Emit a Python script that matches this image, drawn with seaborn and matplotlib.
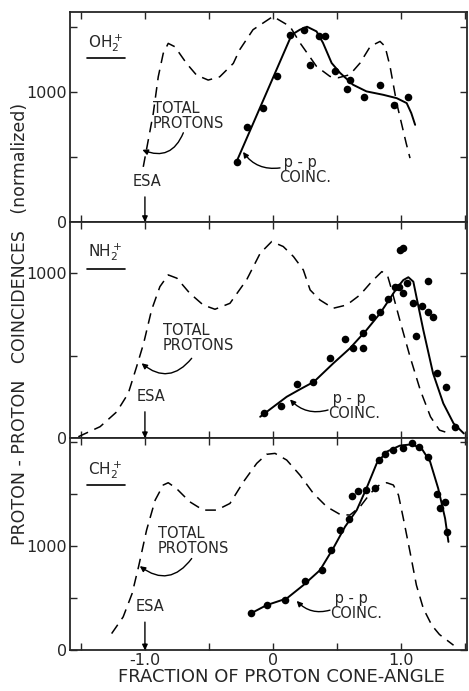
import matplotlib
matplotlib.use("Agg")
import matplotlib.pyplot as plt
import seaborn as sns

sns.set_style("ticks")
plt.rcParams['font.family'] = ['DejaVu Sans']
plt.rcParams['font.size'] = 11

# ---- OH2+ panel ----
oh_total_x = [-1.013, -0.974, -0.935, -0.896, -0.857, -0.818, -0.766, -0.675, -0.597, -0.506,
              -0.416, -0.31, -0.26, -0.156, 0.0, 0.133, 0.21, 0.34, 0.445, 0.51, 0.60, 0.68,
              0.76, 0.836, 0.875, 0.914, 0.966, 1.04, 1.07]
oh_total_y = [423, 628, 833, 1115, 1295, 1372, 1346, 1218, 1128, 1090,
              1115, 1218, 1323, 1477, 1579, 1502, 1377, 1195, 1118, 1108, 1131, 1221,
              1349, 1387, 1349, 1195, 913, 605, 490]
oh_fit_x = [-0.284, 0.146, 0.21, 0.266, 0.34, 0.39, 0.458, 0.523, 0.625, 0.73, 0.86, 0.966,
            1.044, 1.08, 1.11]
oh_fit_y = [464, 1438, 1477, 1500, 1464, 1377, 1221, 1146, 1054, 1003, 977, 951,
            913, 836, 746]
oh_pts_x = [-0.279, -0.20, -0.081, 0.029, 0.133, 0.245, 0.289, 0.362, 0.406, 0.484,
            0.60, 0.575, 0.71, 0.836, 0.945, 1.057]
oh_pts_y = [464, 733, 874, 1123, 1438, 1472, 1203, 1426, 1426, 1156,
            1087, 1021, 959, 1054, 900, 959]

# ---- NH2+ panel ----
nh_total_x = [-1.52, -1.35, -1.22, -1.13, -1.065, -1.01, -0.948, -0.883, -0.818, -0.75,
              -0.65, -0.545, -0.453, -0.336, -0.206, -0.10, -0.01, 0.08, 0.16, 0.237,
              0.29, 0.367, 0.47, 0.576, 0.68, 0.77, 0.85, 0.893, 0.927, 0.99, 1.07,
              1.15, 1.23, 1.30, 1.38]
nh_total_y = [8, 69, 159, 271, 432, 574, 776, 917, 988, 968,
              877, 806, 780, 816, 958, 1119, 1190, 1160, 1099, 1018,
              897, 836, 786, 806, 867, 947, 1008, 988, 897, 715, 493,
              291, 129, 48, 28]
nh_fit_x = [-0.10, 0.107, 0.21, 0.32, 0.47, 0.60, 0.73, 0.836, 0.914, 0.966, 1.018, 1.057,
            1.096, 1.12, 1.174, 1.25, 1.33, 1.41, 1.49]
nh_fit_y = [129, 250, 295, 341, 452, 543, 654, 755, 846, 907, 957, 974,
            947, 856, 654, 392, 210, 89, 28]
nh_pts_x = [-0.07, 0.0625, 0.19, 0.315, 0.445, 0.5625, 0.628, 0.70, 0.705, 0.77, 0.836,
            0.896, 0.953, 0.987, 0.99, 1.013, 1.018, 1.05, 1.096, 1.16, 1.21, 1.21,
            1.25, 1.117, 1.28, 1.35, 1.42]
nh_pts_y = [153, 196, 327, 341, 487, 598, 543, 543, 638, 731, 766,
            840, 917, 913, 1140, 1150, 881, 937, 816, 800, 953, 766,
            731, 618, 396, 311, 65]

# ---- CH2+ panel ----
ch_total_x = [-1.26, -1.17, -1.10, -1.05, -0.987, -0.92, -0.857, -0.818, -0.755, -0.65,
              -0.545, -0.44, -0.336, -0.23, -0.127, -0.05, 0.016, 0.107, 0.21, 0.315,
              0.42, 0.523, 0.60, 0.68, 0.76, 0.836, 0.888, 0.94, 0.98, 1.018, 1.07,
              1.12, 1.174, 1.24, 1.30, 1.41]
ch_total_y = [160, 320, 545, 801, 1154, 1442, 1587, 1609, 1555, 1426,
              1346, 1346, 1410, 1619, 1795, 1882, 1891, 1827, 1683, 1507,
              1378, 1305, 1298, 1378, 1507, 1593, 1609, 1587, 1490, 1266, 945,
              625, 401, 240, 151, 48]
ch_fit_x = [-0.174, -0.05, 0.107, 0.237, 0.367, 0.47, 0.5625, 0.654, 0.73, 0.81, 0.888,
            0.99, 1.083, 1.16, 1.227, 1.29, 1.344, 1.37]
ch_fit_y = [353, 433, 497, 625, 769, 978, 1186, 1346, 1555, 1795, 1907,
            1965, 1978, 1939, 1811, 1555, 1266, 1041]
ch_pts_x = [-0.174, -0.05, 0.094, 0.25, 0.38, 0.45, 0.52, 0.596, 0.62, 0.66, 0.727,
            0.797, 0.83, 0.875, 0.94, 1.013, 1.083, 1.143, 1.213, 1.284, 1.344,
            1.305, 1.362]
ch_pts_y = [353, 439, 487, 663, 769, 962, 1154, 1260, 1481, 1529, 1538,
            1561, 1827, 1882, 1923, 1945, 1987, 1955, 1859, 1497, 1426,
            1368, 1131]

ion_labels = ['OH$_2^+$', 'NH$_2^+$', 'CH$_2^+$']
y_tops = [1615, 1309, 2038]
x_ticks = [-1.5, -1.0, -0.5, 0.0, 0.5, 1.0, 1.5]
x_ticklabels = ['', '-1.0', '', '0', '', '1.0', '']
y_ticks = [0, 500, 1000, 1500, 2000]
y_ticklabels = ['0', '', '1000', '', '']

# annotation anchors (data coords) per panel
total_text = [(-0.94, 815), (-0.86, 606), (-0.90, 1052)]
total_arrow = [((-0.70, 685), (-1.02, 554)), ((-0.635, 483), (-1.026, 453)),
               ((-0.635, 881), (-1.04, 808))]
pp_text = [(0.045, 400), (0.43, 195), (0.445, 425)]
pp_arrow = [((0.055, 415), (-0.234, 538)), ((0.43, 170), (0.133, 234)),
            ((0.445, 385), (0.185, 474))]
esa_text = [(-0.98, 310), (-0.95, 250), (-0.96, 417)]
esa_arrow_top = [192, 159, 270]

panels = [
    (oh_total_x, oh_total_y, oh_fit_x, oh_fit_y, oh_pts_x, oh_pts_y),
    (nh_total_x, nh_total_y, nh_fit_x, nh_fit_y, nh_pts_x, nh_pts_y),
    (ch_total_x, ch_total_y, ch_fit_x, ch_fit_y, ch_pts_x, ch_pts_y),
]

fig, axes = plt.subplots(3, 1, figsize=(4.69, 6.91), dpi=100, sharex=True,
                         gridspec_kw={'height_ratios': [210, 216, 212], 'hspace': 0})
fig.subplots_adjust(left=0.149, right=0.996, top=0.983, bottom=0.059)

for i, ax in enumerate(axes):
    tx, ty, fx, fy, px, py = panels[i]
    sns.lineplot(x=tx, y=ty, ax=ax, sort=False, estimator=None, color='black',
                 linewidth=1.1, linestyle=(0, (7, 4.5)))
    sns.lineplot(x=fx, y=fy, ax=ax, sort=False, estimator=None, color='black',
                 linewidth=1.4)
    sns.scatterplot(x=px, y=py, ax=ax, color='black', s=30, linewidth=0, zorder=3)

    ax.set_xlim(-1.586, 1.516)
    ax.set_xticks(x_ticks)
    ax.set_xticklabels(x_ticklabels)
    ax.set_yticks(y_ticks)
    ax.set_yticklabels(y_ticklabels)
    ax.set_ylim(0, y_tops[i])
    ax.tick_params(direction='in', length=5, width=1.0, top=True, right=True,
                   labelsize=11.5, pad=2)
    for sp in ax.spines.values():
        sp.set_linewidth(1.3)
        sp.set_visible(True)

    # ion label with underline
    ax.text(0.045, 0.85 if i != 1 else 0.86, ion_labels[i], transform=ax.transAxes,
            fontsize=11, va='center', ha='left')
    ax.plot([0.043, 0.14], [0.78, 0.78], transform=ax.transAxes, color='black', lw=1.2)

    ax.text(total_text[i][0], total_text[i][1], 'TOTAL\nPROTONS', fontsize=10.5,
            va='center', ha='left', linespacing=1.0)
    ax.annotate('', xy=total_arrow[i][1], xytext=total_arrow[i][0],
                arrowprops=dict(arrowstyle='-|>', color='black', lw=1.0,
                                mutation_scale=8, shrinkA=0, shrinkB=0,
                                connectionstyle='arc3,rad=-0.5'))
    ax.text(pp_text[i][0], pp_text[i][1], ' p - p\nCOINC.', fontsize=10.5,
            va='center', ha='left', linespacing=1.0)
    ax.annotate('', xy=pp_arrow[i][1], xytext=pp_arrow[i][0],
                arrowprops=dict(arrowstyle='-|>', color='black', lw=1.0,
                                mutation_scale=8, shrinkA=0, shrinkB=0,
                                connectionstyle='arc3,rad=-0.3'))
    ax.text(esa_text[i][0], esa_text[i][1], 'ESA', fontsize=10.5, va='center', ha='center')
    ax.annotate('', xy=(-1.0, 0), xytext=(-1.0, esa_arrow_top[i]),
                arrowprops=dict(arrowstyle='-|>', color='black', lw=1.0,
                                mutation_scale=8, shrinkA=0, shrinkB=0))

axes[2].set_xlabel('')
fig.text(0.6, 0.02, 'FRACTION OF PROTON CONE-ANGLE', ha='center', va='center', fontsize=13)
fig.text(0.043, 0.531, 'PROTON - PROTON   COINCIDENCES   (normalized)', rotation=90,
         ha='center', va='center', fontsize=12.5)

plt.savefig('out.png', dpi=100)
